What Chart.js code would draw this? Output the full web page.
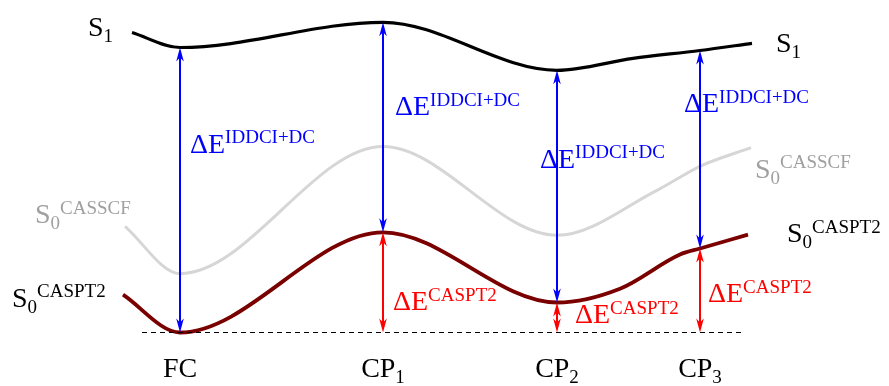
<!DOCTYPE html>
<html>
<head>
<meta charset="utf-8">
<script src="https://cdn.jsdelivr.net/npm/chart.js@4/dist/chart.umd.min.js"></script>
<style>
  html, body { margin: 0; padding: 0; background: #ffffff; }
  #wrap { width: 889px; height: 386px; position: relative; }
</style>
</head>
<body>
<div id="wrap"><canvas id="pes"></canvas></div>
<script>
// Reaction coordinate (arbitrary units) and energies (eV, relative to the FC ground state)
const s1X      = [-0.48, 0.00, 2.03, 3.77, 4.53, 5.20, 5.72];
const s1E      = [ 5.00, 4.75, 5.17, 4.37, 4.57, 4.70, 4.82];

const casscfX  = [-0.55, 0.00, 2.03, 3.77, 4.77, 5.20, 5.71];
const casscfE  = [ 1.77, 0.98, 3.10, 1.62, 2.37, 2.77, 3.08];

const caspt2X  = [-0.57, 0.00, 2.03, 3.77, 4.40, 5.00, 5.20, 5.68];
const caspt2E  = [ 0.63, 0.00, 1.67, 0.50, 0.73, 1.30, 1.40, 1.63];

const baseX    = [-0.38, 5.62];
const baseE    = [0, 0];

// Critical points along the path
const cpNames  = ['FC', 'CP', 'CP', 'CP'];
const cpSubs   = ['', '1', '2', '3'];
const cpX      = [0.00, 2.03, 3.77, 5.20];
const cpS1     = [4.75, 5.17, 4.37, 4.70];
const cpS0     = [0.00, 1.67, 0.50, 1.40];

const toPts = (xs, ys) => xs.map((x, i) => ({ x: x, y: ys[i] }));

const MAIN = '28px "Liberation Serif", "Times New Roman", serif';
const SMALL = '19px "Liberation Serif", "Times New Roman", serif';
const BLUE = '#0000ff';
const RED = '#ff0000';
const GREY_TEXT = '#a0a0a0';

// Text items: parts are [text, kind] with kind main/sub/sup; anchor in data units
const labels = [
  { at: [-0.92, 4.95], color: '#000', parts: [['S', 'main'], ['1', 'sub']] },
  { at: [ 5.96, 4.67], color: '#000', parts: [['S', 'main'], ['1', 'sub']] },
  { at: [-1.45, 1.82], color: GREY_TEXT, parts: [['S', 'main'], ['0', 'sub'], ['CASSCF', 'sup']] },
  { at: [ 5.75, 2.58], color: GREY_TEXT, parts: [['S', 'main'], ['0', 'sub'], ['CASSCF', 'sup']] },
  { at: [-1.68, 0.43], color: '#000', parts: [['S', 'main'], ['0', 'sub'], ['CASPT2', 'sup']] },
  { at: [ 6.07, 1.50], color: '#000', parts: [['S', 'main'], ['0', 'sub'], ['CASPT2', 'sup']] },
  { at: [ 0.10, 3.00], color: BLUE, parts: [['\u0394E', 'main'], ['IDDCI+DC', 'sup']] },
  { at: [ 2.15, 3.62], color: BLUE, parts: [['\u0394E', 'main'], ['IDDCI+DC', 'sup']] },
  { at: [ 3.60, 2.75], color: BLUE, parts: [['\u0394E', 'main'], ['IDDCI+DC', 'sup']] },
  { at: [ 5.04, 3.67], color: BLUE, parts: [['\u0394E', 'main'], ['IDDCI+DC', 'sup']] },
  { at: [ 2.13, 0.37], color: RED, parts: [['\u0394E', 'main'], ['CASPT2', 'sup']] },
  { at: [ 3.95, 0.15], color: RED, parts: [['\u0394E', 'main'], ['CASPT2', 'sup']] },
  { at: [ 5.28, 0.50], color: RED, parts: [['\u0394E', 'main'], ['CASPT2', 'sup']] }
];
const cpLabelE = -0.75;

function partsWidth(ctx, parts) {
  let w = 0;
  for (const [t, k] of parts) { ctx.font = k === 'main' ? MAIN : SMALL; w += ctx.measureText(t).width; }
  return w;
}

function drawRich(ctx, x, y, parts, color, align) {
  ctx.save();
  ctx.fillStyle = color;
  ctx.textBaseline = 'alphabetic';
  ctx.textAlign = 'left';
  let cx = align === 'center' ? x - partsWidth(ctx, parts) / 2 : x;
  for (const [t, k] of parts) {
    ctx.font = k === 'main' ? MAIN : SMALL;
    const dy = k === 'sub' ? 6 : (k === 'sup' ? -9.5 : 0);
    ctx.fillText(t, cx, y + dy);
    cx += ctx.measureText(t).width;
  }
  ctx.restore();
}

function arrowHead(ctx, x, yTip, dir, color) {
  // dir = +1 : head points down, -1 : head points up
  const len = 14, half = 3.8, notch = 10;
  ctx.beginPath();
  ctx.moveTo(x, yTip);
  ctx.lineTo(x - half, yTip - dir * len);
  ctx.lineTo(x, yTip - dir * notch);
  ctx.lineTo(x + half, yTip - dir * len);
  ctx.closePath();
  ctx.fillStyle = color;
  ctx.fill();
}

function doubleArrow(ctx, x, yTop, yBot, color) {
  ctx.save();
  ctx.strokeStyle = color;
  ctx.lineWidth = 2;
  ctx.beginPath();
  ctx.moveTo(x, yTop + 6);
  ctx.lineTo(x, yBot - 6);
  ctx.stroke();
  arrowHead(ctx, x, yTop, -1, color);
  arrowHead(ctx, x, yBot, 1, color);
  ctx.restore();
}

const annotate = {
  id: 'annotate',
  afterDatasetsDraw(chart) {
    const ctx = chart.ctx, xs = chart.scales.x, ys = chart.scales.y;
    cpX.forEach((x, i) => {
      const px = xs.getPixelForValue(x);
      const yS1 = ys.getPixelForValue(cpS1[i]);
      const yS0 = ys.getPixelForValue(cpS0[i]);
      const yBase = ys.getPixelForValue(0);
      doubleArrow(ctx, px, yS1, yS0, BLUE);
      if (cpS0[i] > 0) doubleArrow(ctx, px, yS0, yBase, RED);
    });
  },
  afterDraw(chart) {
    const ctx = chart.ctx, xs = chart.scales.x, ys = chart.scales.y;
    labels.forEach(l => {
      drawRich(ctx, xs.getPixelForValue(l.at[0]), ys.getPixelForValue(l.at[1]), l.parts, l.color, 'left');
    });
    cpX.forEach((x, i) => {
      const parts = [[cpNames[i], 'main']];
      if (cpSubs[i]) parts.push([cpSubs[i], 'sub']);
      drawRich(ctx, xs.getPixelForValue(x), ys.getPixelForValue(cpLabelE), parts, '#000', 'center');
    });
  }
};

new Chart(document.getElementById('pes'), {
  type: 'line',
  data: {
    datasets: [
      { label: 'S0 CASSCF', data: toPts(casscfX, casscfE), borderColor: '#d6d6d6', borderWidth: 3, cubicInterpolationMode: 'monotone' },
      { label: 'baseline', data: toPts(baseX, baseE), borderColor: '#000000', borderWidth: 1.2, borderDash: [5, 4] },
      { label: 'S0 CASPT2', data: toPts(caspt2X, caspt2E), borderColor: '#7a0000', borderWidth: 3.8, cubicInterpolationMode: 'monotone' },
      { label: 'S1', data: toPts(s1X, s1E), borderColor: '#000000', borderWidth: 3.2, cubicInterpolationMode: 'monotone' }
    ]
  },
  options: {
    responsive: true,
    maintainAspectRatio: false,
    animation: false,
    layout: { padding: 0 },
    elements: { point: { radius: 0 }, line: { borderCapStyle: 'butt', fill: false } },
    scales: {
      x: { type: 'linear', min: -1.8, max: 7.09, display: false },
      y: { type: 'linear', min: -0.8917, max: 5.5417, display: false }
    },
    plugins: { legend: { display: false }, tooltip: { enabled: false } }
  },
  plugins: [annotate]
});
</script>
</body>
</html>
